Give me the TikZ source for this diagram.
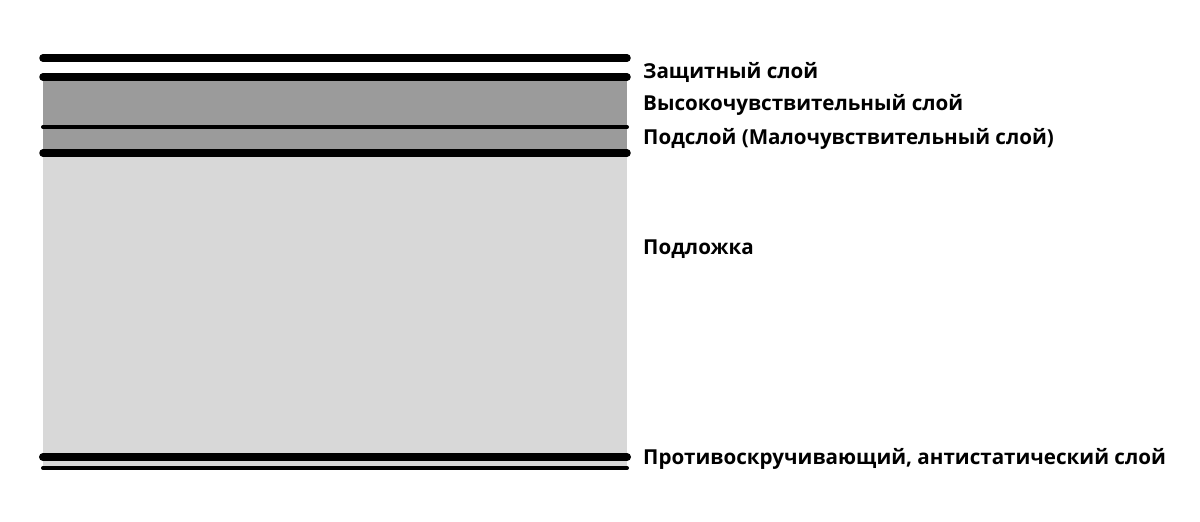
\documentclass[tikz,border=0pt]{standalone}
\usepackage{fontspec}
\setmainfont{Open Sans}
\begin{document}
\begin{tikzpicture}[x=1pt,y=-1pt,
  thickline/.style={line width=7.5pt,line cap=round,black},
  thinline/.style={line width=4pt,line cap=round,black},
  lab/.style={anchor=west,inner sep=0pt,font=\fontsize{20.6}{24}\selectfont\bfseries}]
\useasboundingbox (0,0) rectangle (1200,522);
\fill[fill={rgb,255:red,155;green,155;blue,155}] (43,80) rectangle (627,153);
\fill[fill={rgb,255:red,216;green,216;blue,216}] (43,155) rectangle (627,458);
\fill[fill={rgb,255:red,216;green,216;blue,216}] (43,458) rectangle (627,468);
\coordinate (l1a) at (43,58); \coordinate (l1b) at (627,58);
\coordinate (l2a) at (43,77); \coordinate (l2b) at (627,77);
\coordinate (l3a) at (43,127); \coordinate (l3b) at (627,127);
\coordinate (l4a) at (43,153); \coordinate (l4b) at (627,153);
\coordinate (l5a) at (43,457); \coordinate (l5b) at (627,457);
\coordinate (l6a) at (43,468); \coordinate (l6b) at (627,468);
\draw[thickline] (l1a) -- (l1b);
\draw[thickline] (l2a) -- (l2b);
\draw[thinline] (l3a) -- (l3b);
\draw[thickline] (l4a) -- (l4b);
\draw[line width=8pt,line cap=round] (l5a) -- (l5b);
\draw[thinline] (l6a) -- (l6b);
\node[lab] (t1) at (643,72) {Защитный слой};
\node[lab] (t2) at (643,105) {Высокочувствительный слой};
\node[lab] (t3) at (643,139) {Подслой (Малочувствительный слой)};
\node[lab] (t4) at (643,249) {Подложка};
\node[lab] (t5) at (643,459) {Противоскручивающий, антистатический слой};
\end{tikzpicture}
\end{document}
